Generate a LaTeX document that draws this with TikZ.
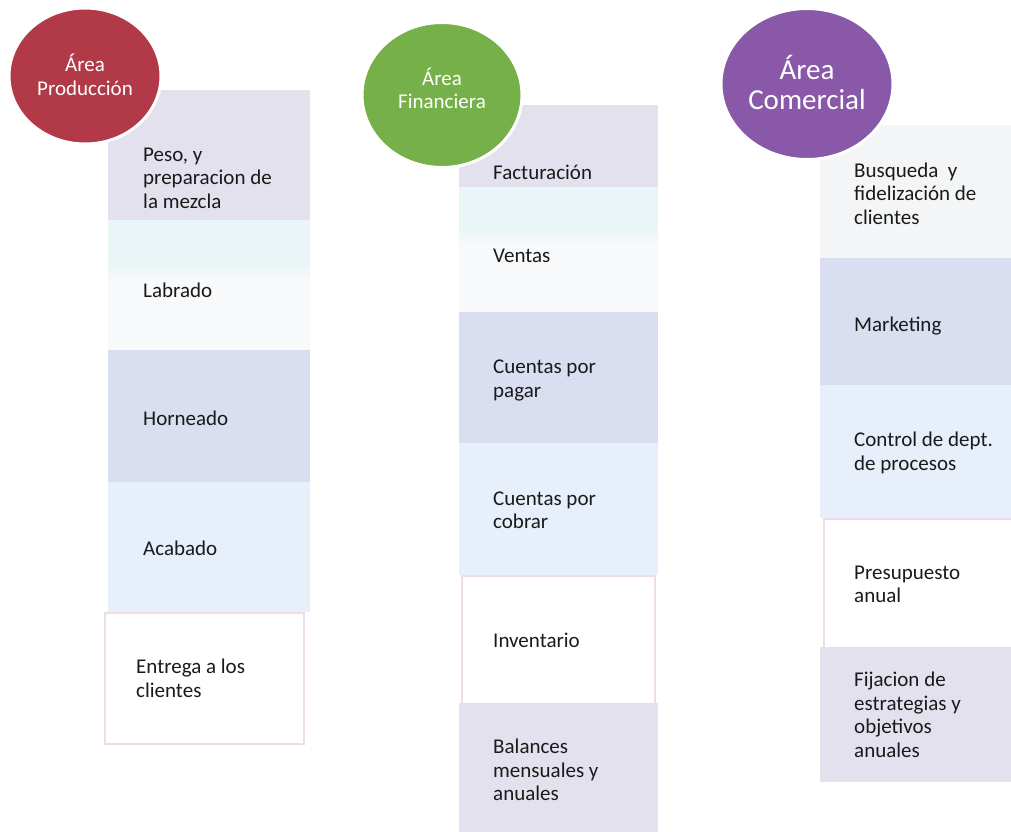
\documentclass[tikz,border=0pt]{standalone}
\usepackage{fontspec}
\setmainfont{Carlito}
\usetikzlibrary{shapes.geometric}

\definecolor{prodred}{RGB}{178,58,72}
\definecolor{fingreen}{RGB}{118,176,72}
\definecolor{compurple}{RGB}{137,88,168}
\definecolor{lav}{RGB}{228,225,238}
\definecolor{bluelav}{RGB}{218,222,241}
\definecolor{lightblue}{RGB}{231,239,250}
\definecolor{paleaqua}{RGB}{233,245,246}
\definecolor{paper}{RGB}{248,249,251}
\definecolor{greywhite}{RGB}{244,245,247}
\definecolor{pinkline}{RGB}{238,220,232}
\definecolor{inktext}{RGB}{26,26,26}

\pgfdeclareverticalshading{aquafade}{100bp}{color(0bp)=(paper); color(25bp)=(paper);
  color(52bp)=(paper); color(59bp)=(paleaqua); color(75bp)=(paleaqua); color(100bp)=(paleaqua)}

\begin{document}
\begin{tikzpicture}[x=1pt,y=-1pt,
    item/.style={anchor=north west, inner sep=0pt, minimum width=#1},
    item/.default=202pt,
    itemedge/.style={item=#1, draw=pinkline, line width=2pt, fill=white},
    itemedge/.default=199pt,
    itemtext/.style={anchor=west, inner sep=0pt, align=left, text=inktext,
      font=\fontsize{21}{23.5}\selectfont},
    fading/.style={shading=aquafade},
    area/.style={ellipse, draw=white, line width=3pt, inner sep=0pt},
    areatext/.style={text=white, align=center, inner sep=0pt}]

        \useasboundingbox[fill=white] (0,0) rectangle (1011,831);

        % Area Produccion
        \node[item, fill=lav, minimum height=130pt] (p1) at (108,90) {};
        \node[item, fading, minimum height=130pt] (p2) at (108,220) {};
        \node[item, fill=bluelav, minimum height=132pt] (p3) at (108,350) {};
        \node[item, fill=lightblue, minimum height=130pt] (p4) at (108,482) {};
        \node[itemedge, minimum height=131pt] (p5) at (104,612) {};

        \node[itemtext] (p1t) at ([xshift=35pt,yshift=-23pt]p1.west) {Peso, y\\preparacion de\\la mezcla};
        \node[itemtext] (p2t) at ([xshift=35pt,yshift=-5pt]p2.west) {Labrado};
        \node[itemtext] (p3t) at ([xshift=35pt,yshift=-2pt]p3.west) {Horneado};
        \node[itemtext] (p4t) at ([xshift=35pt,yshift=-1pt]p4.west) {Acabado};
        \node[itemtext] (p5t) at ([xshift=32pt]p5.west) {Entrega a los\\clientes};

        % Area Financiera
        \node[item=199pt, fill=lav, minimum height=82pt] (f1) at (459,105) {};
        \node[item=199pt, fading, minimum height=125pt] (f2) at (459,187) {};
        \node[item=199pt, fill=bluelav, minimum height=131pt] (f3) at (459,312) {};
        \node[item=199pt, fill=lightblue, minimum height=132pt] (f4) at (459,443) {};
        \node[itemedge=193pt, minimum height=128pt] (f5) at (461,575) {};
        \node[item=199pt, fill=lav, minimum height=130pt] (f6) at (459,703) {};

        \node[itemtext] (f1t) at ([xshift=34pt,yshift=-26pt]f1.west) {Facturación};
        \node[itemtext] (f2t) at ([xshift=34pt,yshift=-6pt]f2.west) {Ventas};
        \node[itemtext] (f3t) at ([xshift=34pt,yshift=-3pt]f3.west) {Cuentas por\\pagar};
        \node[itemtext] (f4t) at ([xshift=34pt,yshift=-1pt]f4.west) {Cuentas por\\cobrar};
        \node[itemtext] (f5t) at ([xshift=32pt]f5.west) {Inventario};
        \node[itemtext] (f6t) at ([xshift=34pt,yshift=-2pt]f6.west) {Balances\\mensuales y\\anuales};

        % Area Comercial
        \node[item=200pt, fill=greywhite, minimum height=133pt] (c1) at (820,125) {};
        \node[item=200pt, fill=bluelav, minimum height=127pt] (c2) at (820,258) {};
        \node[item=200pt, fill=lightblue, minimum height=133pt] (c3) at (820,385) {};
        \node[itemedge=200pt, minimum height=129pt] (c4) at (823,518) {};
        \node[item=200pt, fill=lav, minimum height=135pt] (c5) at (820,647) {};

        \node[itemtext] (c1t) at ([xshift=34pt,yshift=-2pt]c1.west) {Busqueda\ \ y\\fidelización de\\clientes};
        \node[itemtext] (c2t) at ([xshift=34pt,yshift=-4pt]c2.west) {Marketing};
        \node[itemtext] (c3t) at ([xshift=34pt,yshift=-1pt]c3.west) {Control de dept.\\de procesos};
        \node[itemtext] (c4t) at ([xshift=31pt,yshift=-1pt]c4.west) {Presupuesto\\anual};
        \node[itemtext] (c5t) at ([xshift=34pt]c5.west) {Fijacion de\\estrategias y\\objetivos\\anuales};

        % circles
        \node[area, fill=prodred, minimum width=152pt, minimum height=136pt] (prod) at (85,76) {};
        \node[area, fill=fingreen, minimum width=160pt, minimum height=145pt] (fin) at (442,95) {};
        \node[area, fill=compurple, minimum width=172pt, minimum height=151pt] (com) at (807,84) {};

        \node[areatext, font=\fontsize{21}{24}\selectfont] (prodt) at ([yshift=1pt]prod.center) {Área\\Producción};
        \node[areatext, font=\fontsize{21}{23}\selectfont] (fint) at ([yshift=7pt]fin.center) {Área\\Financiera};
        \node[areatext, font=\fontsize{29}{30}\selectfont] (comt) at ([yshift=2pt]com.center) {Área\\Comercial};
    \end{tikzpicture}
\end{document}
